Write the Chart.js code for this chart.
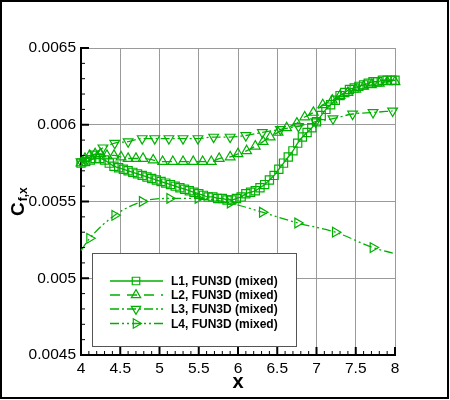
<!DOCTYPE html>
<html>
<head>
<meta charset="utf-8">
<script src="https://cdn.jsdelivr.net/npm/chart.js@4.4.0/dist/chart.umd.min.js"></script>
<style>
html, body { margin: 0; padding: 0; background: #fff; }
canvas { display: block; }
</style>
</head>
<body>
<canvas id="c" width="450" height="400"></canvas>
<script>
// values
const labels = ['L1, FUN3D (mixed)', 'L2, FUN3D (mixed)', 'L3, FUN3D (mixed)', 'L4, FUN3D (mixed)'];

const l1x = [4.00, 4.06, 4.12, 4.18, 4.24, 4.30, 4.36, 4.42, 4.48, 4.54, 4.60, 4.66, 4.72, 4.78, 4.84, 4.90,
  4.96, 5.02, 5.08, 5.14, 5.20, 5.26, 5.32, 5.38, 5.44, 5.50, 5.56, 5.62, 5.68, 5.74, 5.80, 5.86, 5.92, 5.98,
  6.04, 6.10, 6.16, 6.22, 6.28, 6.34, 6.40, 6.46, 6.52, 6.58, 6.64, 6.70, 6.76, 6.82, 6.88, 6.94, 7.00, 7.06,
  7.12, 7.18, 7.24, 7.30, 7.36, 7.42, 7.48, 7.54, 7.60, 7.66, 7.72, 7.78, 7.84, 7.90, 7.96, 8.00];
const l1y = [0.00575, 0.00576, 0.00577, 0.00578, 0.00578, 0.00577, 0.00575, 0.00573, 0.00572, 0.00571, 0.00570,
  0.00569, 0.00568, 0.00567, 0.00566, 0.00565, 0.00564, 0.00563, 0.00562, 0.00561, 0.00560, 0.00559, 0.00558,
  0.00557, 0.00556, 0.00555, 0.00554, 0.00553, 0.00553, 0.00552, 0.00552, 0.00551, 0.00551, 0.00552, 0.00553,
  0.00555, 0.00556, 0.00557, 0.00559, 0.00561, 0.00564, 0.00567, 0.00571, 0.00575, 0.00579, 0.00583, 0.00588,
  0.00592, 0.00595, 0.00598, 0.00602, 0.00606, 0.00610, 0.00613, 0.00616, 0.00619, 0.00621, 0.00623, 0.00624,
  0.00625, 0.00626, 0.00627, 0.00628, 0.00628, 0.00629, 0.00629, 0.00629, 0.00629];

const l2x = [4.00, 4.05, 4.11, 4.18, 4.25, 4.33, 4.42, 4.51, 4.60, 4.70, 4.79, 4.92, 5.04, 5.17, 5.30, 5.43,
  5.55, 5.66, 5.76, 5.90, 6.00, 6.11, 6.22, 6.32, 6.41, 6.51, 6.62, 6.75, 6.85, 6.96, 7.08, 7.20, 7.30, 7.40,
  7.50, 7.60, 7.70, 7.80, 7.90, 8.00];
const l2y = [0.00575, 0.00578, 0.00580, 0.00581, 0.00581, 0.00580, 0.00580, 0.00579, 0.00578, 0.00578, 0.00578,
  0.00577, 0.00576, 0.00576, 0.00576, 0.00576, 0.00576, 0.00576, 0.00578, 0.00579, 0.00581, 0.00583, 0.00586,
  0.00589, 0.00592, 0.00595, 0.00598, 0.00601, 0.00605, 0.00608, 0.00613, 0.00616, 0.00619, 0.00621, 0.00623,
  0.00625, 0.00626, 0.00627, 0.00628, 0.00628];

const l3x = [4.00, 4.08, 4.17, 4.28, 4.43, 4.60, 4.78, 4.94, 5.12, 5.30, 5.49, 5.69, 5.90, 6.10, 6.31, 6.54,
  6.77, 6.99, 7.21, 7.46, 7.72, 7.97];
const l3y = [0.00576, 0.00578, 0.00581, 0.00585, 0.00588, 0.00589, 0.00591, 0.00591, 0.00591, 0.00591, 0.00591,
  0.00592, 0.00592, 0.00593, 0.00595, 0.00597, 0.00599, 0.00602, 0.00604, 0.00607, 0.00608, 0.00609];

const l4x = [4.00, 4.11, 4.43, 4.78, 5.13, 5.49, 5.90, 6.31, 6.76, 7.24, 7.72, 8.00];
const l4y = [0.00518, 0.00526, 0.00541, 0.00550, 0.00552, 0.00552, 0.00549, 0.00543, 0.00536, 0.00530, 0.00520, 0.00516];

const xMin = 4, xMax = 8, xStep = 0.5;
const yMin = 0.0045, yMax = 0.0065, yStep = 0.0005;

const green = 'rgb(0,176,0)';
const font = "'Liberation Sans', Arial, Helvetica, sans-serif";

function pts(xs, ys) { return xs.map((x, i) => ({ x: x, y: ys[i] })); }

const styles = [
  { pointStyle: 'rect', rotation: 0, radius: 5.8, dash: [] },
  { pointStyle: 'triangle', rotation: 0, radius: 5.6, dash: [10, 7] },
  { pointStyle: 'triangle', rotation: 180, radius: 5.6, dash: [9, 3, 2, 3] },
  { pointStyle: 'triangle', rotation: 90, radius: 5.6, dash: [9, 3, 2, 3, 2, 3] }
];
const series = [pts(l1x, l1y), pts(l2x, l2y), pts(l3x, l3y), pts(l4x, l4y)];

const datasets = series.map((d, i) => ({
  label: labels[i],
  data: d,
  borderColor: green,
  backgroundColor: 'rgba(0,0,0,0)',
  borderWidth: 1.3,
  borderDash: styles[i].dash,
  pointStyle: styles[i].pointStyle,
  pointRotation: styles[i].rotation,
  pointBorderColor: green,
  pointBackgroundColor: 'rgba(0,0,0,0)',
  pointBorderWidth: 1.2,
  pointRadius: i === 3
    ? (c => (c.dataIndex === 0 || c.dataIndex === d.length - 1) ? 0 : styles[i].radius)
    : styles[i].radius,
  cubicInterpolationMode: 'monotone',
  clip: false
}));

function marker(ctx, st, x, y) {
  ctx.save();
  ctx.setLineDash([]);
  ctx.strokeStyle = green;
  ctx.lineWidth = 1.2;
  ctx.beginPath();
  if (st.pointStyle === 'rect') {
    const s = 5.3 * Math.SQRT1_2;
    ctx.rect(x - s, y - s, 2 * s, 2 * s);
  } else {
    let a = st.rotation * Math.PI / 180;
    for (let k = 0; k < 3; k++) {
      const px = x + Math.sin(a) * 5.4, py = y - Math.cos(a) * 5.4;
      if (k === 0) ctx.moveTo(px, py); else ctx.lineTo(px, py);
      a += 2 * Math.PI / 3;
    }
    ctx.closePath();
  }
  ctx.stroke();
  ctx.restore();
}

const decor = {
  id: 'decor',
  afterDatasetsDraw(chart) {
    const ctx = chart.ctx;
    const a = chart.chartArea;
    const sx = chart.scales.x, sy = chart.scales.y;

    // legend box inside the plot
    ctx.save();
    ctx.fillStyle = '#fff';
    ctx.fillRect(92, 253, 204, 93);
    ctx.strokeStyle = '#555';
    ctx.lineWidth = 1;
    ctx.strokeRect(92.5, 253.5, 204, 93);
    const rows = [281, 295, 309, 323.5];
    chart.data.datasets.forEach((ds, i) => {
      const y = rows[i];
      ctx.strokeStyle = green;
      ctx.lineWidth = 1.3;
      ctx.setLineDash(styles[i].dash);
      ctx.beginPath();
      ctx.moveTo(110, y);
      ctx.lineTo(163, y);
      ctx.stroke();
      marker(ctx, styles[i], 136, y);
      ctx.setLineDash([]);
      ctx.fillStyle = '#000';
      ctx.font = 'bold 12px ' + font;
      ctx.textAlign = 'left';
      ctx.textBaseline = 'middle';
      ctx.fillText(ds.label, 171, y + 1);
    });
    ctx.restore();

    // inside ticks, major and minor
    ctx.save();
    ctx.strokeStyle = '#000';
    for (let i = 0; i <= 40; i++) {
      const v = xMin + i * 0.1;
      const px = sx.getPixelForValue(v);
      const major = i % 5 === 0;
      ctx.lineWidth = major ? 2 : 1;
      ctx.beginPath();
      ctx.moveTo(px, a.bottom);
      ctx.lineTo(px, a.bottom - (major ? 8 : 4));
      ctx.stroke();
    }
    for (let i = 0; i <= 20; i++) {
      const v = yMin + i * 0.0001;
      const py = sy.getPixelForValue(v);
      const major = i % 5 === 0;
      ctx.lineWidth = major ? 2 : 1;
      ctx.beginPath();
      ctx.moveTo(a.left, py);
      ctx.lineTo(a.left + (major ? 8 : 4), py);
      ctx.stroke();
    }
    ctx.restore();

    // axis titles
    ctx.save();
    ctx.fillStyle = '#000';
    ctx.font = 'bold 20px ' + font;
    ctx.textAlign = 'center';
    ctx.textBaseline = 'alphabetic';
    ctx.fillText('x', (a.left + a.right) / 2, 388);
    ctx.translate(23.5, 216);
    ctx.rotate(-Math.PI / 2);
    ctx.textAlign = 'left';
    ctx.font = 'bold 19px ' + font;
    ctx.fillText('C', 0, 0);
    const cw = ctx.measureText('C').width;
    ctx.font = 'bold 12px ' + font;
    ctx.fillText('f,x', cw + 1, 3);
    ctx.restore();

    // outer frame of the picture
    ctx.save();
    ctx.strokeStyle = '#000';
    ctx.lineWidth = 2;
    ctx.strokeRect(1, 1, 447, 397);
    ctx.restore();
  }
};

new Chart(document.getElementById('c').getContext('2d'), {
  type: 'line',
  data: { datasets: datasets },
  options: {
    responsive: false,
    animation: false,
    events: [],
    layout: { padding: { left: 0, top: 48, right: 55, bottom: 0 } },
    plugins: { legend: { display: false }, tooltip: { enabled: false } },
    scales: {
      x: {
        type: 'linear',
        min: xMin, max: xMax,
        afterFit: s => { s.height = 45; },
        ticks: {
          stepSize: xStep, autoSkip: false, maxRotation: 0, padding: 4,
          color: '#000', font: { family: font, size: 15.5 },
          callback: v => String(Number(v.toFixed(1)))
        },
        grid: { color: '#9a9a9a', lineWidth: 1, drawTicks: false },
        border: { color: '#000', width: 2 }
      },
      y: {
        type: 'linear',
        min: yMin, max: yMax,
        afterFit: s => { s.width = 81; },
        ticks: {
          stepSize: yStep, autoSkip: false, padding: 5,
          color: '#000', font: { family: font, size: 15.5 },
          callback: v => String(Number(v.toFixed(4)))
        },
        grid: { color: '#9a9a9a', lineWidth: 1, drawTicks: false },
        border: { color: '#000', width: 2 }
      }
    }
  },
  plugins: [decor]
});
</script>
</body>
</html>
